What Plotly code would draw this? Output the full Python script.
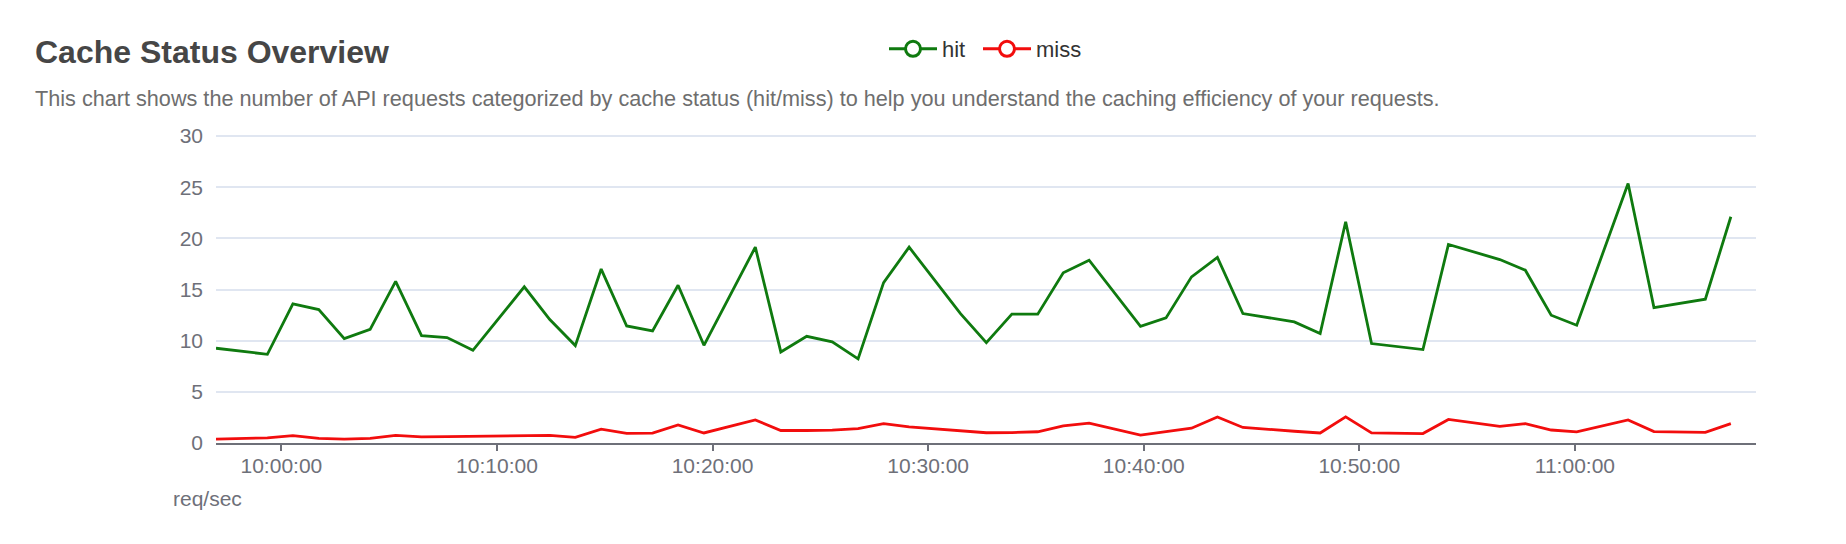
import plotly.graph_objects as go

# ---- data ----
day = "2024-01-01 "
times = ["09:56:58", "09:59:21", "10:00:32", "10:01:44", "10:02:55", "10:04:07", "10:05:18",
         "10:06:30", "10:07:41", "10:08:53", "10:11:16", "10:12:27", "10:13:38", "10:14:50",
         "10:16:01", "10:17:13", "10:18:24", "10:19:36", "10:21:59", "10:23:10", "10:24:22",
         "10:25:33", "10:26:45", "10:27:56", "10:29:07", "10:31:30", "10:32:42", "10:33:53",
         "10:35:05", "10:36:16", "10:37:28", "10:39:51", "10:41:02", "10:42:13", "10:43:25",
         "10:44:36", "10:46:59", "10:48:11", "10:49:22", "10:50:34", "10:52:57", "10:54:08",
         "10:56:31", "10:57:42", "10:58:54", "11:00:05", "11:02:28", "11:03:40", "11:06:03",
         "11:07:14"]
hit = [9.26, 8.67, 13.6, 13.04, 10.2, 11.1, 15.8, 10.5, 10.3, 9.06,
       15.26, 12.06, 9.52, 17.0, 11.44, 10.96, 15.42, 9.55,
       19.14, 8.9, 10.43, 9.88, 8.22, 15.68, 19.14,
       12.65, 9.81, 12.59, 12.59, 16.63, 17.87,
       11.41, 12.23, 16.24, 18.13, 12.65,
       11.84, 10.69, 21.62, 9.72,
       9.13, 19.4,
       17.93, 16.89, 12.49, 11.51,
       25.37, 13.24,
       14.05, 22.11]
miss = [0.38, 0.5, 0.72, 0.45, 0.38, 0.45, 0.75, 0.6, 0.62, 0.65,
        0.78, 0.75, 0.55, 1.35, 0.95, 0.97, 1.76, 0.98,
        2.25, 1.22, 1.22, 1.25, 1.4, 1.9, 1.58,
        1.15, 1.0, 1.02, 1.1, 1.68, 1.95,
        0.77, 1.1, 1.45, 2.55, 1.52,
        1.15, 0.98, 2.55, 0.98,
        0.92, 2.3,
        1.62, 1.9, 1.27, 1.08,
        2.25, 1.12,
        1.04, 1.9]
series_names = ["hit", "miss"]
x_range = ["09:56:58", "11:08:24"]
y_range = [0, 30.2]
y_ticks = [0, 5, 10, 15, 20, 25, 30]

title_text = "Cache Status Overview"
subtitle_text = ("This chart shows the number of API requests categorized by cache status "
                 "(hit/miss) to help you understand the caching efficiency of your requests.")
y_unit = "req/sec"

# ---- styling ----
FONT = "Liberation Sans, Arial, Helvetica, sans-serif"
GREEN = "#0f7a0f"
RED = "#f20d0d"
AXIS_GREY = "#6e7079"

W, H = 1846, 544
L, R, T, B = 216, 90, 134, 101
PW, PH = W - L - R, H - T - B


def px_x(p):
    return (p - L) / PW


def px_y(p):
    return (H - B - p) / PH


x = [day + t for t in times]
fig = go.Figure()
for name, vals, col, lg in [(series_names[0], hit, GREEN, "legend"),
                            (series_names[1], miss, RED, "legend2")]:
    fig.add_trace(go.Scatter(x=x, y=vals, mode="lines", name=name, showlegend=False,
                             line=dict(color=col, width=2.8), hoverinfo="x+y"))
    # legend-only entry with the hollow-circle icon
    fig.add_trace(go.Scatter(x=[None], y=[None], mode="lines+markers", name=name,
                             legend=lg, line=dict(color=col, width=3),
                             marker=dict(symbol="circle", size=15, color="white",
                                         line=dict(color=col, width=3))))

legend_common = dict(orientation="h", xanchor="left", y=px_y(49), yanchor="middle",
                     font=dict(size=22, color="#333333"), bgcolor="rgba(0,0,0,0)",
                     itemwidth=48)

fig.update_layout(
    width=W, height=H, autosize=False,
    margin=dict(l=L, r=R, t=T, b=B, pad=0),
    paper_bgcolor="white", plot_bgcolor="white",
    font=dict(family=FONT, color=AXIS_GREY, size=21),
    showlegend=True,
    legend=dict(x=px_x(884), **legend_common),
    legend2=dict(x=px_x(978), **legend_common),
    xaxis=dict(type="date", range=[day + x_range[0], day + x_range[1]],
               dtick=600000, tick0=day + "10:00:00", tickformat="%H:%M:%S",
               showgrid=False, zeroline=False,
               showline=True, linecolor=AXIS_GREY, linewidth=1.5,
               ticks="outside", ticklen=6, tickwidth=1.5, tickcolor=AXIS_GREY,
               ticklabelstandoff=-3,
               tickfont=dict(size=21, color=AXIS_GREY)),
    yaxis=dict(range=y_range, tickvals=y_ticks, showgrid=True, gridcolor="#e0e6f1",
               gridwidth=1.5, zeroline=False, showline=False,
               ticks="", ticklabelstandoff=12,
               tickfont=dict(size=21, color=AXIS_GREY)),
    annotations=[
        dict(text="<b>" + title_text + "</b>", xref="paper", yref="paper",
             x=px_x(33), y=px_y(52), xanchor="left", yanchor="middle", showarrow=False,
             font=dict(size=32, color="#464646", family=FONT)),
        dict(text=subtitle_text, xref="paper", yref="paper",
             x=px_x(33), y=px_y(98), xanchor="left", yanchor="middle", showarrow=False,
             font=dict(size=21.65, color="#6e6e6e", family=FONT)),
        dict(text=y_unit, xref="paper", yref="paper",
             x=px_x(171), y=px_y(498), xanchor="left", yanchor="middle", showarrow=False,
             font=dict(size=21, color=AXIS_GREY, family=FONT)),
    ],
)

fig.write_html("out.html", config={"displayModeBar": False},
               post_script="document.body.style.margin='0';")
